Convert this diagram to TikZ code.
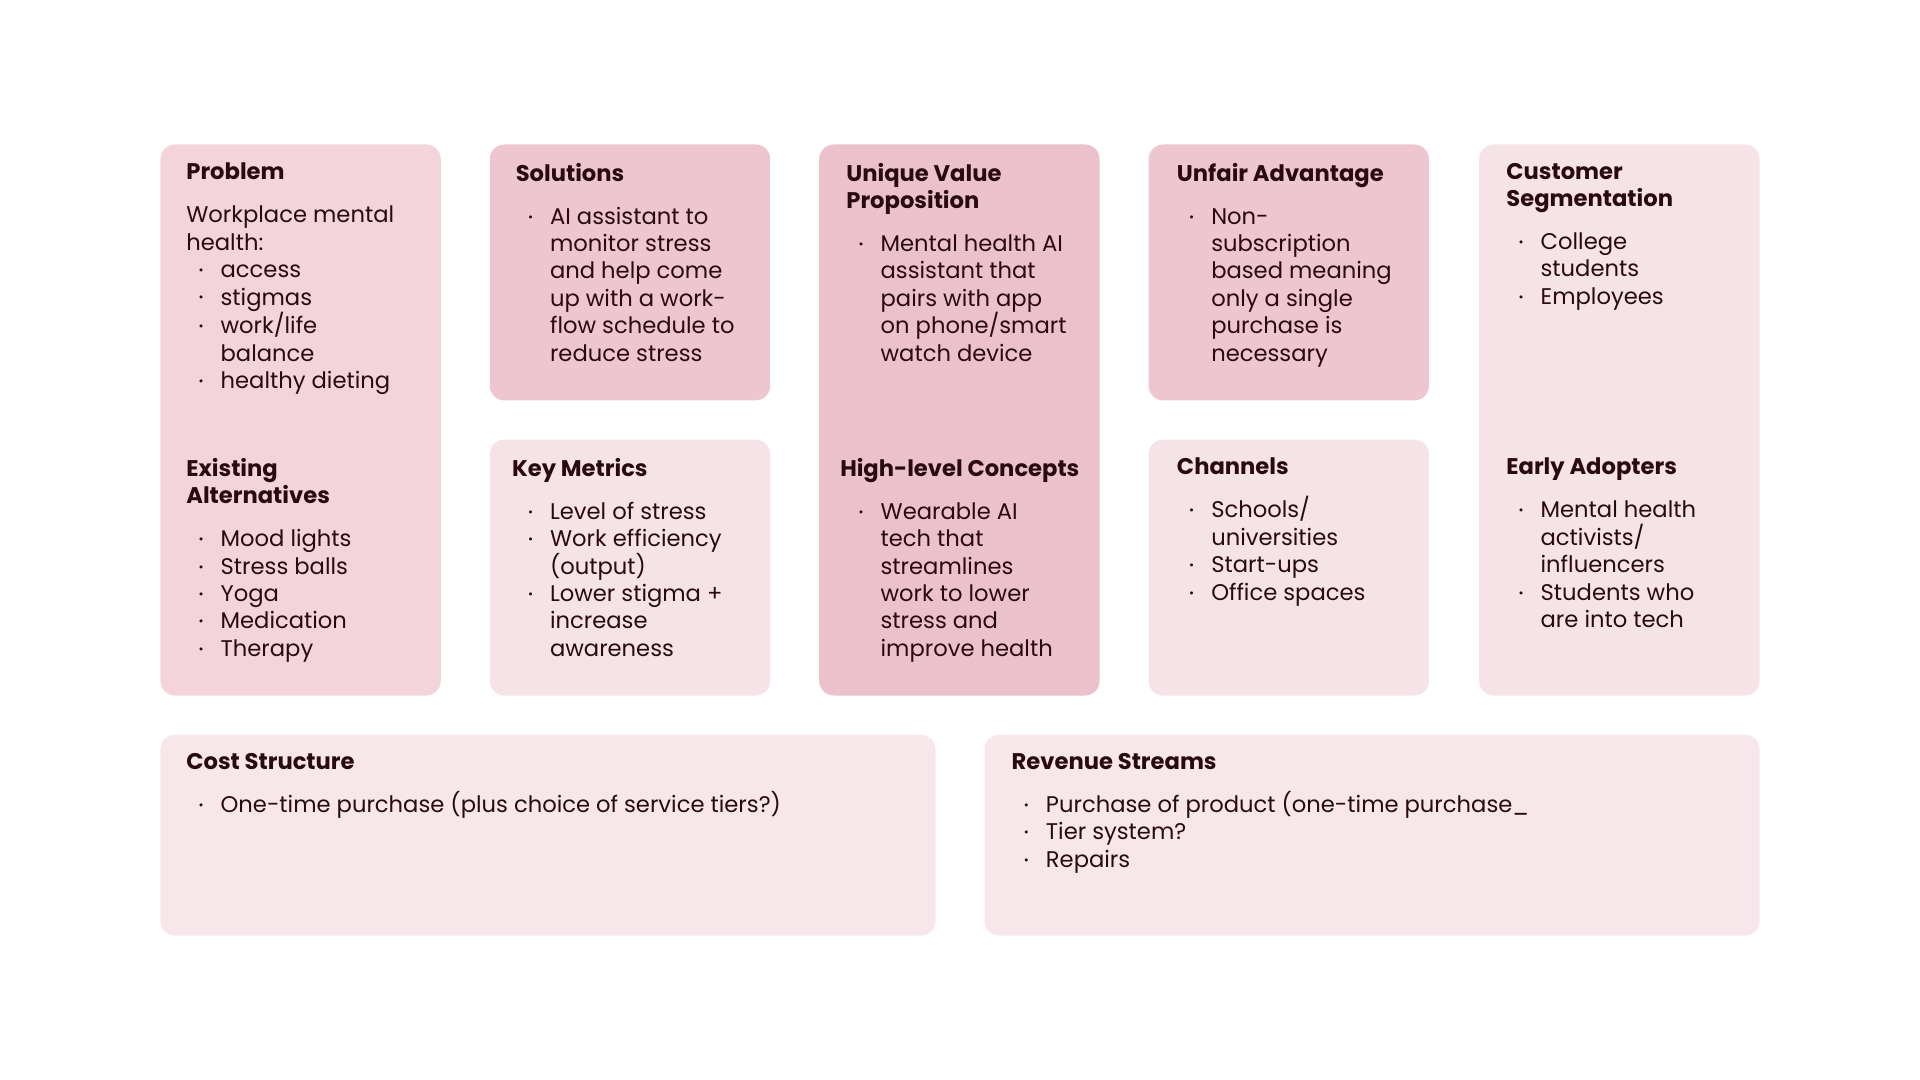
\documentclass[tikz,border=0pt]{standalone}
\usepackage{fontspec}
\setmainfont{Poppins}
\definecolor{txt}{HTML}{2A0A12}
\definecolor{cA}{HTML}{F2D4DA}
\definecolor{cB}{HTML}{EDC6CF}
\definecolor{cC}{HTML}{EBC2CC}
\definecolor{cD}{HTML}{F6E3E7}
\definecolor{cE}{HTML}{F7E6EA}
\newcommand{\bl}{\makebox[28pt][l]{\hspace{10pt}{\fontsize{10}{10}\selectfont\raisebox{2.5pt}{\textbullet}}}}
\newcommand{\ct}{\hspace*{28pt}}
\newcommand{\ttl}[1]{\textbf{#1}}
\begin{document}
\begin{tikzpicture}[x=1pt,y=-1pt,
  card/.style={rounded corners=12pt},
  blk/.style={anchor=north west,inner sep=0pt,align=left,text=txt,font=\fontsize{18.5}{22.4}\selectfont}]
\useasboundingbox[fill=white] (0,0) rectangle (1568,882);
\fill[cA,card] (131,118) rectangle (360,568);
\fill[cB,card] (400,118) rectangle (629,327);
\fill[cC,card] (669,118) rectangle (898,568);
\fill[cB,card] (938,118) rectangle (1167,327);
\fill[cD,card] (1208,118) rectangle (1437,568);
\fill[cD,card] (400,359) rectangle (629,568);
\fill[cD,card] (938,359) rectangle (1167,568);
\fill[cE,card] (131,600) rectangle (764,764);
\fill[cE,card] (804,600) rectangle (1437,764);

\node[blk] (prob) at (152,133) {\ttl{Problem}\\[12.6pt]Workplace mental\\health:\\\bl access\\\bl stigmas\\\bl work/life\\\ct balance\\\bl healthy dieting};
\node[blk] (sol) at (421,133) {\ttl{Solutions}\\[12.6pt]\bl AI assistant to\\\ct monitor stress\\\ct and help come\\\ct up with a work-\\\ct flow schedule to\\\ct reduce stress};
\node[blk] (uvp) at (691,133) {\ttl{Unique Value}\\\ttl{Proposition}\\[12.6pt]\bl Mental health AI\\\ct assistant that\\\ct pairs with app\\\ct on phone/smart\\\ct watch device};
\node[blk] (unf) at (961,133) {\ttl{Unfair Advantage}\\[12.6pt]\bl Non-\\\ct subscription\\\ct based meaning\\\ct only a single\\\ct purchase is\\\ct necessary};
\node[blk] (cust) at (1230,133) {\ttl{Customer}\\\ttl{Segmentation}\\[12.6pt]\bl College\\\ct students\\\bl Employees};
\node[blk] (alt) at (152,374) {\ttl{Existing}\\\ttl{Alternatives}\\[12.6pt]\bl Mood lights\\\bl Stress balls\\\bl Yoga\\\bl Medication\\\bl Therapy};
\node[blk] (km) at (418,374) {\ttl{Key Metrics}\\[12.6pt]\hspace*{3pt}\bl Level of stress\\\hspace*{3pt}\bl Work efficiency\\\hspace*{3pt}\ct (output)\\\hspace*{3pt}\bl Lower stigma +\\\hspace*{3pt}\ct increase\\\hspace*{3pt}\ct awareness};
\node[blk] (hlc) at (686,374) {\ttl{High-level Concepts}\\[12.6pt]\hspace*{5pt}\bl Wearable AI\\\hspace*{5pt}\ct tech that\\\hspace*{5pt}\ct streamlines\\\hspace*{5pt}\ct work to lower\\\hspace*{5pt}\ct stress and\\\hspace*{5pt}\ct improve health};
\node[blk] (ch) at (961,374) {\ttl{Channels}\\[12.6pt]\bl Schools/\\\ct universities\\\bl Start-ups\\\bl Office spaces};
\node[blk] (ea) at (1230,374) {\ttl{Early Adopters}\\[12.6pt]\bl Mental health\\\ct activists/\\\ct influencers\\\bl Students who\\\ct are into tech};
\node[blk] (cost) at (152,615) {\ttl{Cost Structure}\\[12.6pt]\bl One-time purchase (plus choice of service tiers?)};
\node[blk] (rev) at (826,615) {\ttl{Revenue Streams}\\[12.6pt]\bl Purchase of product (one-time purchase\_\\\bl Tier system?\\\bl Repairs};
\end{tikzpicture}
\end{document}
